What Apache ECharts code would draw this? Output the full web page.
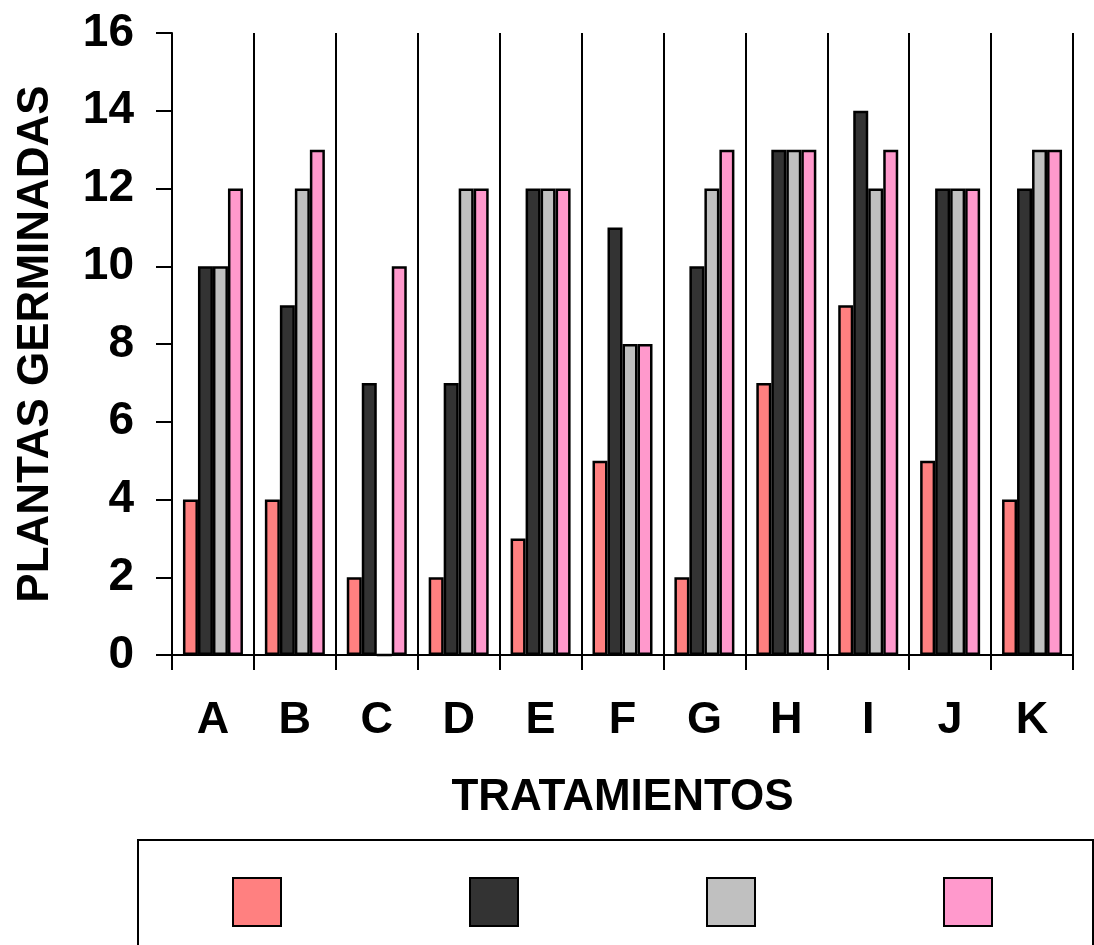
<!DOCTYPE html>
<html>
<head>
<meta charset="utf-8">
<script src="https://cdn.jsdelivr.net/npm/echarts@6/dist/echarts.min.js"></script>
<style>html,body{margin:0;padding:0;background:#fff;}#chart{width:1094px;height:945px;}</style>
</head>
<body>
<div id="chart"></div>
<script>
const categories = ['A','B','C','D','E','F','G','H','I','J','K'];
const seriesNames = ['Serie 1','Serie 2','Serie 3','Serie 4'];
const serie1 = [4, 4, 2, 2, 3, 5, 2, 7, 9, 5, 4];
const serie2 = [10, 9, 7, 7, 12, 11, 10, 13, 14, 12, 12];
const serie3 = [10, 12, 0, 12, 12, 8, 12, 13, 12, 12, 13];
const serie4 = [12, 13, 10, 12, 12, 8, 13, 13, 13, 12, 13];
const yTicks = [0, 2, 4, 6, 8, 10, 12, 14, 16];
const colors = ['#FF8080', '#333333', '#C0C0C0', '#FF99CC'];

const FONT = '"Liberation Sans", Arial, sans-serif';
const chart = echarts.init(document.getElementById('chart'), null, {renderer: 'canvas'});
const dataSets = [serie1, serie2, serie3, serie4];

chart.setOption({
  animation: false,
  backgroundColor: '#fff',
  grid: {left: 172, right: 21, top: 33, bottom: 290, containLabel: false},
  legend: {
    show: true,
    left: 138, top: 840,
    orient: 'horizontal',
    itemWidth: 48, itemHeight: 48,
    itemGap: 187,
    padding: [37, 100, 40, 94],
    borderColor: '#000', borderWidth: 2,
    icon: 'rect',
    formatter: function () { return ''; },
    itemStyle: {borderColor: '#000', borderWidth: 2},
    data: seriesNames,
    selectedMode: false
  },
  xAxis: {
    type: 'category',
    data: categories,
    boundaryGap: true,
    name: 'TRATAMIENTOS',
    nameLocation: 'middle',
    nameGap: 121,
    nameTextStyle: {fontFamily: FONT, fontWeight: 'bold', fontSize: 44, color: '#000'},
    axisLine: {show: true, lineStyle: {color: '#000', width: 2}},
    axisTick: {show: true, inside: false, length: 15, alignWithLabel: false, lineStyle: {color: '#000', width: 2}},
    axisLabel: {fontFamily: FONT, fontWeight: 'bold', fontSize: 45, color: '#000', margin: 43, interval: 0},
    splitLine: {show: true, interval: 0, lineStyle: {color: '#000', width: 2}}
  },
  yAxis: {
    type: 'value',
    min: yTicks[0], max: yTicks[yTicks.length - 1], interval: 2,
    name: 'PLANTAS GERMINADAS',
    nameLocation: 'middle',
    nameGap: 114,
    nameTextStyle: {fontFamily: FONT, fontWeight: 'bold', fontSize: 44, color: '#000'},
    axisLine: {show: true, lineStyle: {color: '#000', width: 2}},
    axisTick: {show: true, inside: false, length: 16, lineStyle: {color: '#000', width: 2}},
    axisLabel: {fontFamily: FONT, fontWeight: 'bold', fontSize: 46, color: '#000', margin: 38},
    splitLine: {show: false}
  },
  series: dataSets.map((d, i) => ({
    name: seriesNames[i],
    type: 'bar',
    data: d,
    barWidth: 15,
    barGap: '0%',
    itemStyle: {color: colors[i], borderColor: '#000', borderWidth: 2.5}
  }))
});
</script>
</body>
</html>
